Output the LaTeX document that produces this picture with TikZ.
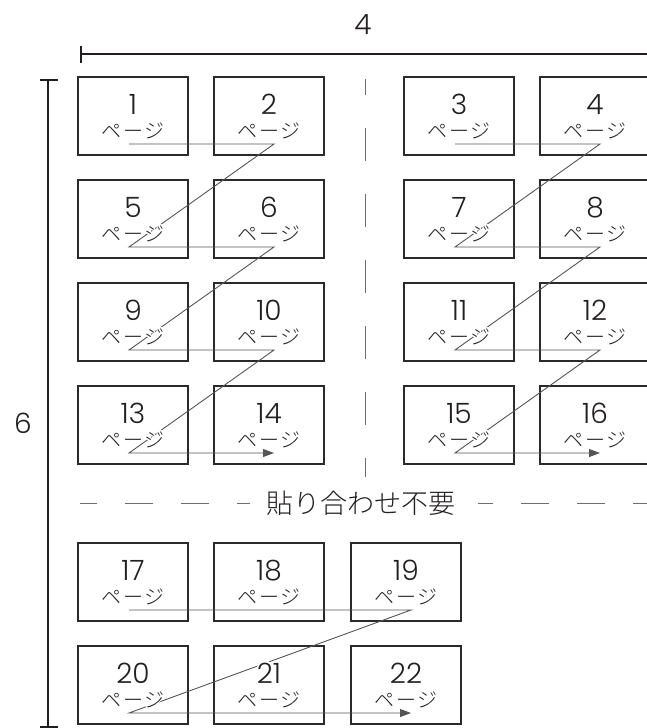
\documentclass[tikz,border=0pt]{standalone}
\usepackage{fontspec}
\usepackage{contour}
\usetikzlibrary{arrows.meta}
\newfontfamily\numfont{Poppins}[UprightFont=* Light]
\newfontfamily\jpfont{Noto Sans CJK JP}[UprightFont=* Light]
\newfontfamily\jpspfont{Noto Sans CJK JP}[UprightFont=* Light, LetterSpace=8]
\definecolor{boxc}{HTML}{2A2A2A}
\definecolor{connc}{HTML}{555555}
\definecolor{dashc}{HTML}{6E6E6E}
\definecolor{dimc}{HTML}{231F20}
\contourlength{1.3pt}
\contournumber{16}
\begin{document}
\begin{tikzpicture}[x=1pt,y=-1pt,
  pagebox/.style={draw=boxc, line width=1.6pt, minimum width=110pt, minimum height=78pt, inner sep=0pt},
  numtext/.style={font=\numfont\fontsize{28}{28}\selectfont, inner sep=0pt, text=dimc, anchor=base, text height=20pt, text depth=0pt},
  jptext/.style={font=\jpspfont\fontsize{20}{20}\selectfont, inner sep=0pt, text=dimc, anchor=base, text height=15pt, text depth=2pt},
  conn/.style={draw=connc, line width=0.9pt},
  conntip/.style={conn, -{Triangle[length=11pt,width=8pt]}},
  cutline/.style={draw=dashc, line width=1pt},
  dimline/.style={draw=dimc, line width=2pt}]
\useasboundingbox (0,0) rectangle (647,728);
% dimension lines
\coordinate (hL) at (81,54); \coordinate (hR) at (650,54);
\coordinate (hT1) at (81,46); \coordinate (hT2) at (81,63);
\draw[dimline] (hL) -- (hR);
\draw[dimline, line width=2.5pt] (hT1) -- (hT2);
\node[numtext] (w) at (363,34) {4};
\coordinate (vT) at (48,80); \coordinate (vB) at (48,727);
\coordinate (vt1) at (40,80); \coordinate (vt2) at (58,80);
\coordinate (vb1) at (40,727); \coordinate (vb2) at (58,727);
\draw[dimline] (vT) -- (vB);
\draw[dimline, line width=2.5pt] (vt1) -- (vt2);
\draw[dimline, line width=2.5pt] (vb1) -- (vb2);
\node[numtext] (h) at (23,433) {6};
% cut lines
\coordinate (c1) at (365,79); \coordinate (c2) at (365,477);
\draw[cutline, dash pattern=on 33pt off 33pt, dash phase=17pt] (c1) -- (c2);
\node[font=\jpfont\fontsize{27}{27}\selectfont, inner sep=0pt, text=dimc] (cut) at (361,503) {貼り合わせ不要};
\coordinate (d1) at (80,503); \coordinate (d2) at (250,503);
\coordinate (d3) at (478,503); \coordinate (d4) at (650,503);
\draw[cutline, dash pattern=on 28pt off 28pt, dash phase=11pt] (d1) -- (d2);
\draw[cutline, dash pattern=on 28pt off 28pt, dash phase=13pt] (d3) -- (d4);
% pages
\foreach \n/\cx/\t in {1/133/77,2/269/77,3/459/77,4/595/77,
  5/133/180,6/269/180,7/459/180,8/595/180,
  9/133/283,10/269/283,11/459/283,12/595/283,
  13/133/386,14/269/386,15/459/386,16/595/386,
  17/133/543,18/269/543,19/406/543,
  20/133/646,21/269/646,22/406/646}{
  \node[pagebox] (b\n) at (\cx,\t+39) {};
  \coordinate (L\n) at (\cx-4,\t+67);
  \coordinate (R\n) at (\cx+5,\t+67);
}
% reading order
\draw[conntip] (L1) -- (R2) -- (L5) -- (R6) -- (L9) -- (R10) -- (L13) -- (R14);
\draw[conntip] (L3) -- (R4) -- (L7) -- (R8) -- (L11) -- (R12) -- (L15) -- (R16);
\draw[conntip] (L17) -- (R19) -- (L20) -- (R22);
% labels
\foreach \n/\cx/\t in {1/133/77,2/269/77,3/459/77,4/595/77,
  5/133/180,6/269/180,7/459/180,8/595/180,
  9/133/283,10/269/283,11/459/283,12/595/283,
  13/133/386,14/269/386,15/459/386,16/595/386,
  17/133/543,18/269/543,19/406/543,
  20/133/646,21/269/646,22/406/646}{
  \node[numtext] (n\n) at (\cx,\t+37) {\contour{white}{\n}};
  \node[jptext] (j\n) at (\cx,\t+61) {\contour{white}{ページ}};
}
\end{tikzpicture}
\end{document}
